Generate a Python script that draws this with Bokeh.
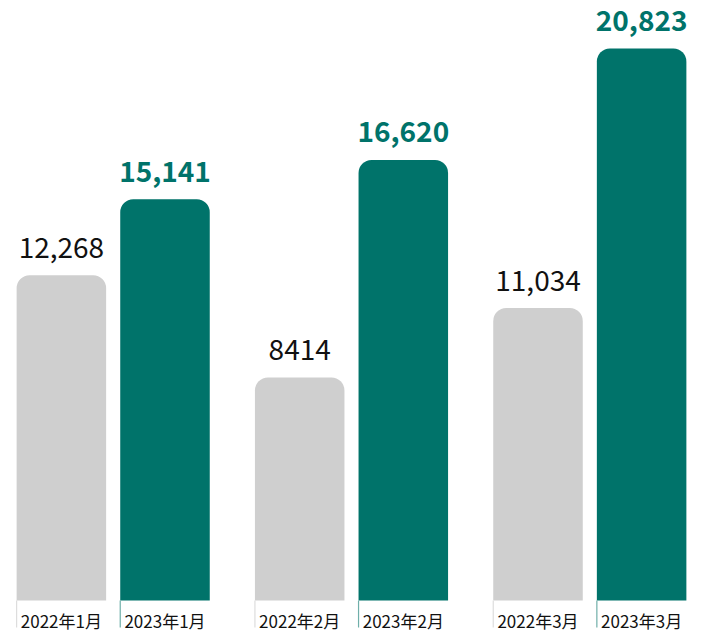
from bokeh.plotting import figure
from bokeh.models import FactorRange, Range1d, ColumnDataSource
from bokeh.core.properties import value
from bokeh.embed import file_html
from bokeh.resources import INLINE

# ---- data ----
months = ["1月", "2月", "3月"]
years = ["2022", "2023"]
labels = ["2022年1月", "2023年1月", "2022年2月", "2023年2月", "2022年3月", "2023年3月"]
values = [12268, 15141, 8414, 16620, 11034, 20823]
value_text = ["12,268", "15,141", "8414", "16,620", "11,034", "20,823"]

TEAL = "#00736A"
GREY = "#CFCFCF"

factors = [(m, y) for m in months for y in years]
is_new = [y == "2023" for (m, y) in factors]
colors = [TEAL if n else GREY for n in is_new]
text_colors = [TEAL if n else "#111111" for n in is_new]
weights = ["bold" if n else "normal" for n in is_new]
line_colors = ["#6FAFA9" if n else "#DDDDDD" for n in is_new]

W, H = 695, 633
BAR_W = 0.864
y_lo, y_hi = -1245, 22634
units_per_px = (y_hi - y_lo) / H

src = ColumnDataSource(dict(
    x=factors,
    left=[(m, y, -BAR_W / 2) for (m, y) in factors],
    top=values,
    color=colors,
    tcolor=text_colors,
    weight=weights,
    vtext=value_text,
    label=labels,
    lcolor=line_colors,
    zero=[0] * len(values),
    below=[-27 * units_per_px] * len(values),
))

x_range = FactorRange(factors=factors, factor_padding=0.0, group_padding=0.3,
                      range_padding=0.02, range_padding_units="absolute")
p = figure(width=W, height=H, x_range=x_range, y_range=Range1d(y_lo, y_hi),
           output_backend="svg", toolbar_location=None, min_border=0,
           min_border_left=7)
p.axis.visible = False
p.grid.visible = False
p.outline_line_color = None
p.background_fill_color = "white"

p.vbar(x="x", top="top", bottom=0, width=BAR_W, source=src, fill_color="color",
       line_color=None, border_radius=(13, 13, 0, 0))

p.segment(x0="left", y0="zero", x1="left", y1="below", source=src,
          line_color="lcolor", line_width=1.2)

p.text(x="x", y="top", text="vtext", source=src, text_color="tcolor",
       text_font=value("Noto Sans CJK SC"), text_font_size="28px",
       text_font_style="weight", text_align="center", text_baseline="alphabetic",
       y_offset=-28)

p.text(x="x", y="zero", text="label", source=src, text_color="#111111",
       text_font=value("Noto Sans CJK SC"), text_font_size="17px",
       text_align="center", text_baseline="middle", y_offset=20)

open("out.html", "w").write(file_html(p, INLINE))
